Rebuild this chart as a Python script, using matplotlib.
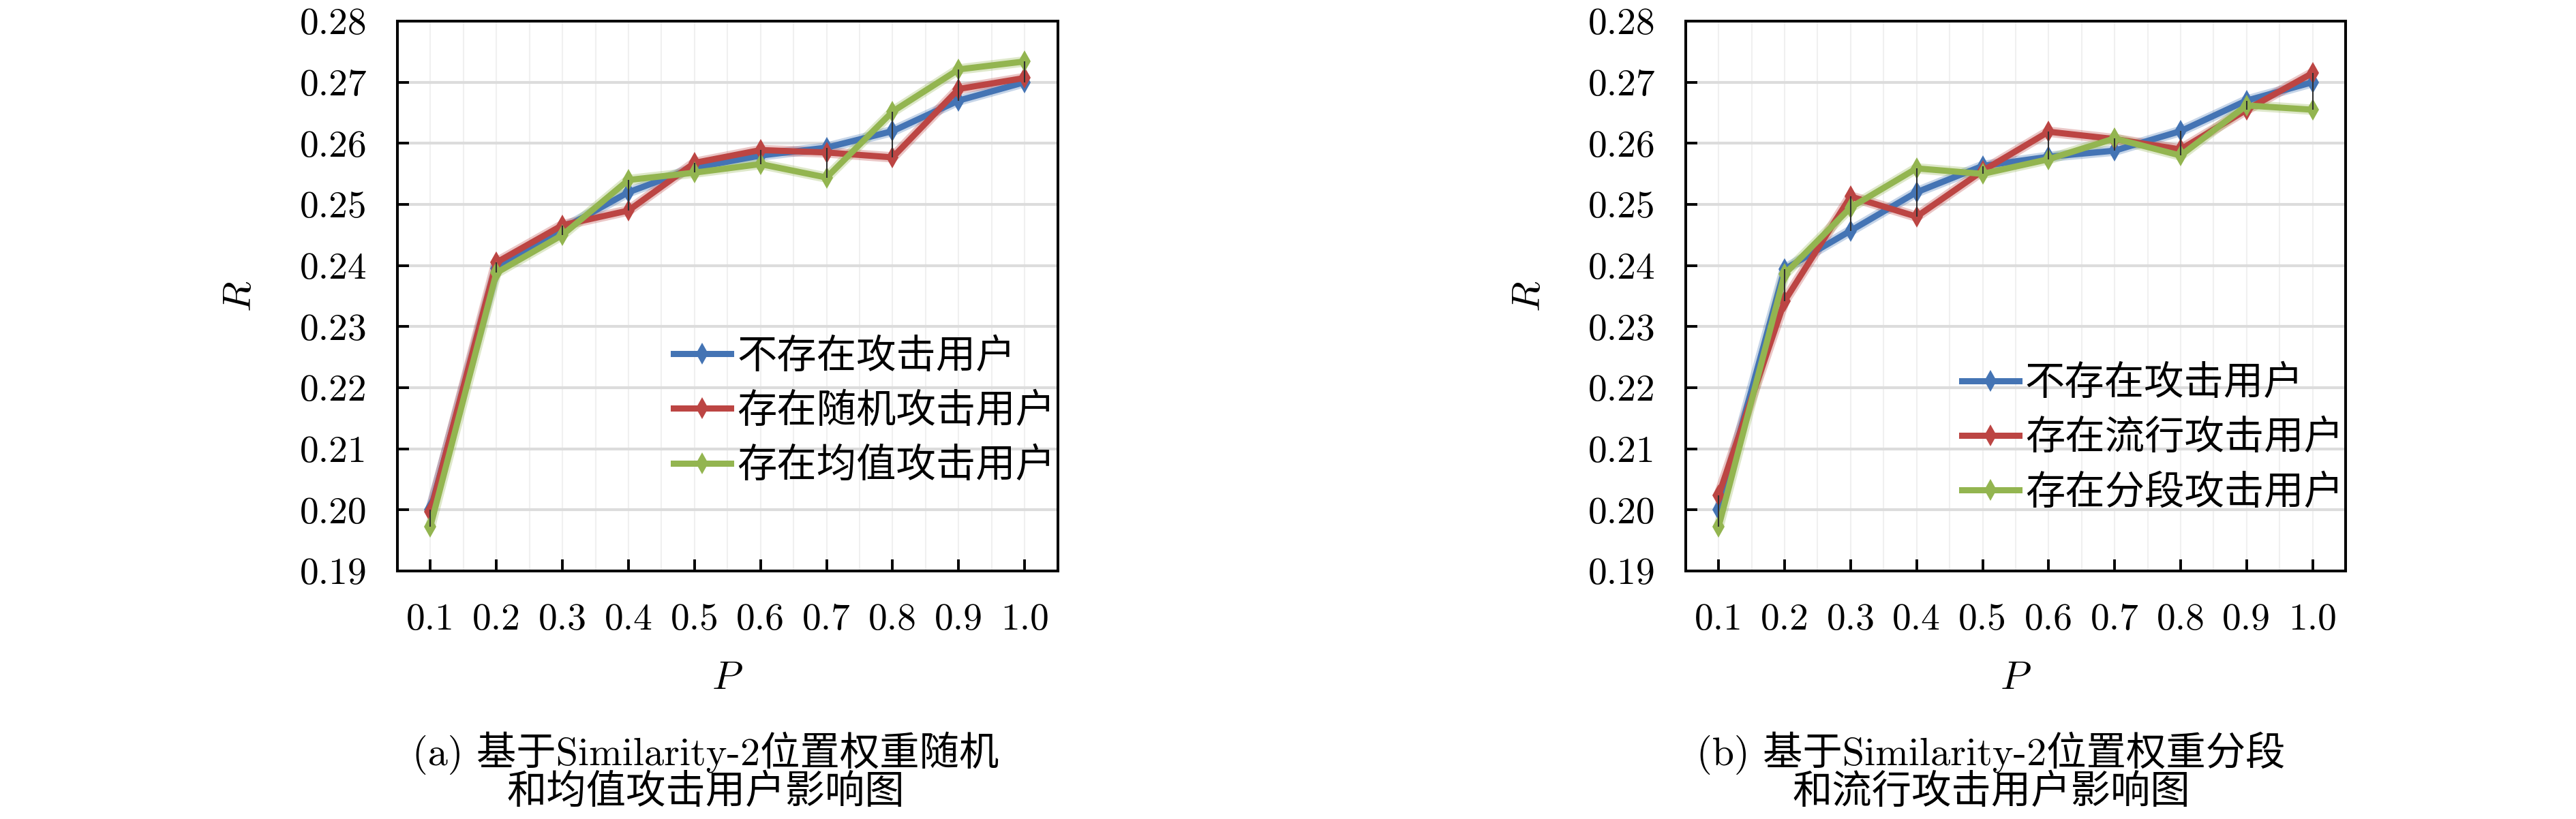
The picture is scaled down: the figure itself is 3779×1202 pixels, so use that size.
import matplotlib
matplotlib.use("Agg")
import matplotlib.pyplot as plt
from matplotlib.ticker import MultipleLocator
import numpy as np

# フォント設定
plt.rcParams["font.family"] = ["cmr10", "Noto Sans CJK SC"]
plt.rcParams["mathtext.fontset"] = "cm"
plt.rcParams["axes.formatter.use_mathtext"] = True

# データ
p_values = [0.1, 0.2, 0.3, 0.4, 0.5, 0.6, 0.7, 0.8, 0.9, 1.0]
x_ticklabels = ["0.1", "0.2", "0.3", "0.4", "0.5", "0.6", "0.7", "0.8", "0.9", "1.0"]
y_ticks = [0.19, 0.20, 0.21, 0.22, 0.23, 0.24, 0.25, 0.26, 0.27, 0.28]
y_ticklabels = ["0.19", "0.20", "0.21", "0.22", "0.23", "0.24", "0.25", "0.26", "0.27", "0.28"]

# (a) 随机 / 均值
a_none = [0.2000, 0.2395, 0.2460, 0.2520, 0.2560, 0.2580, 0.2593, 0.2620, 0.2670, 0.2700]
a_random = [0.1997, 0.2405, 0.2466, 0.2490, 0.2568, 0.2589, 0.2585, 0.2577, 0.2689, 0.2707]
a_average = [0.1973, 0.2388, 0.2450, 0.2540, 0.2552, 0.2566, 0.2544, 0.2652, 0.2721, 0.2734]
a_labels = ["不存在攻击用户", "存在随机攻击用户", "存在均值攻击用户"]

# (b) 流行 / 分段
b_none = [0.2000, 0.2394, 0.2457, 0.2520, 0.2563, 0.2578, 0.2588, 0.2620, 0.2670, 0.2700]
b_popular = [0.2024, 0.2342, 0.2513, 0.2480, 0.2555, 0.2619, 0.2607, 0.2590, 0.2655, 0.2715]
b_segment = [0.1973, 0.2386, 0.2495, 0.2559, 0.2550, 0.2574, 0.2608, 0.2580, 0.2662, 0.2655]
b_labels = ["不存在攻击用户", "存在流行攻击用户", "存在分段攻击用户"]

captions_a = ["(a) 基于Similarity-2位置权重随机", "和均值攻击用户影响图"]
captions_b = ["(b) 基于Similarity-2位置权重分段", "和流行攻击用户影响图"]

colors = ["#4474B4", "#BC4543", "#93B550"]

FONT_TICK = 40
FONT_LABEL = 42
FONT_LEGEND = 42
FONT_CAPTION = 42


def draw_panel(ax, series, labels, legend_y):
    # 网格
    ax.set_xlim(0.05, 1.05)
    ax.set_ylim(0.19, 0.28)
    ax.xaxis.set_minor_locator(MultipleLocator(0.05))
    ax.grid(axis="y", which="major", color="#DCDCDC", lw=3, zorder=0)
    ax.grid(axis="x", which="both", color="#F0F0F0", lw=1.5, zorder=0)

    # high-low lines
    arr = np.array(series)
    ax.vlines(p_values, arr.min(axis=0), arr.max(axis=0),
              color="#303030", lw=1.5, zorder=6)

    handles = []
    for y, c, lab in zip(series, colors, labels):
        ax.plot(p_values, y, color=c, lw=11, alpha=0.3,
                solid_capstyle="round", zorder=3)
        h, = ax.plot(p_values, y, color=c, lw=6.5, marker="d", ms=16,
                     mew=0, solid_joinstyle="round", label=lab, zorder=4)
        handles.append(h)

    ax.set_xticks(p_values)
    ax.set_xticklabels(x_ticklabels)
    ax.set_yticks(y_ticks)
    ax.set_yticklabels(y_ticklabels)
    ax.tick_params(axis="both", which="major", direction="in", length=12,
                   width=2.8, labelsize=FONT_TICK)
    ax.tick_params(axis="x", pad=34)
    ax.tick_params(axis="y", pad=32)
    ax.tick_params(which="minor", length=0)
    for sp in ax.spines.values():
        sp.set_linewidth(2.9)
        sp.set_zorder(10)

    ax.set_xlabel("$P$", fontsize=FONT_LABEL)
    ax.set_ylabel("$R$", fontsize=FONT_LABEL)
    ax.xaxis.set_label_coords(0.5, -0.165)
    ax.yaxis.set_label_coords(-0.21, 0.5)

    ax.legend(handles=handles, loc="center left",
              bbox_to_anchor=(0.418, legend_y), frameon=False,
              prop={"family": "Noto Sans CJK SC", "size": FONT_LEGEND},
              handlelength=1.45, handletextpad=0.15, labelspacing=0.33,
              borderpad=0, borderaxespad=0)


fig = plt.figure(figsize=(37.8, 12.02), dpi=100)
ax_a = fig.add_axes([0.1542, 0.3028, 0.2563, 0.6714])
ax_b = fig.add_axes([0.6542, 0.3028, 0.2561, 0.6714])

draw_panel(ax_a, [a_none, a_random, a_average], a_labels, 0.291)
draw_panel(ax_b, [b_none, b_popular, b_segment], b_labels, 0.242)

# 图注
for xc, caps in [(0.2738, captions_a), (0.7728, captions_b)]:
    fig.text(xc, 1 - 1105 / 1202, caps[0], ha="center", va="center",
             fontsize=FONT_CAPTION, family=["cmr10", "Noto Sans CJK SC"])
    fig.text(xc, 1 - 1163 / 1202, caps[1], ha="center", va="center",
             fontsize=FONT_CAPTION, family=["cmr10", "Noto Sans CJK SC"])

fig.savefig("out.png", dpi=100)
